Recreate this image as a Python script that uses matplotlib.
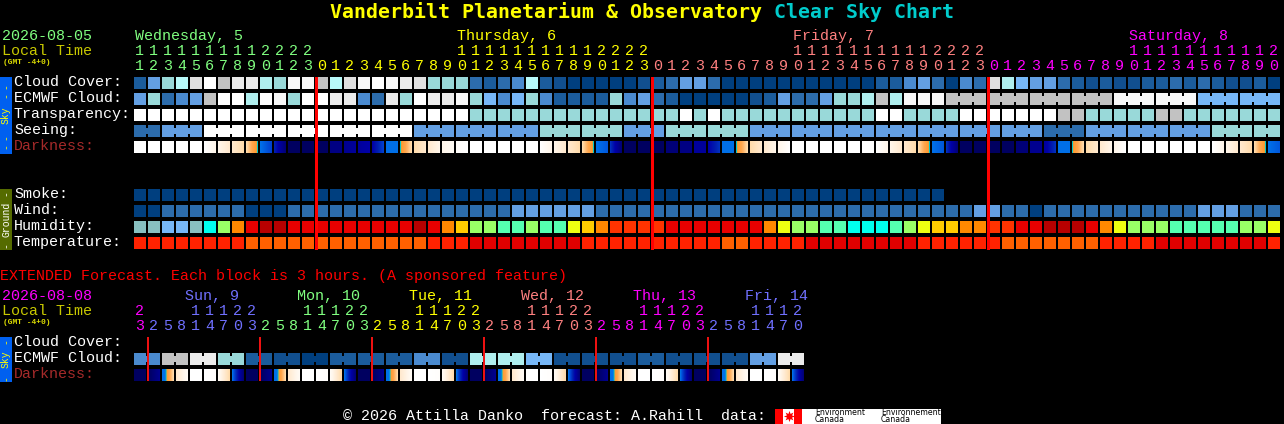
import numpy as np
import matplotlib
matplotlib.use("Agg")
import matplotlib.pyplot as plt
from matplotlib.colors import LinearSegmentedColormap

# ---------- data ----------
hours = [11,12,13,14,15,16,17,18,19,20,21,22,23,
         0,1,2,3,4,5,6,7,8,9,10,11,12,13,14,15,16,17,18,19,20,21,22,23,
         0,1,2,3,4,5,6,7,8,9,10,11,12,13,14,15,16,17,18,19,20,21,22,23,
         0,1,2,3,4,5,6,7,8,9,10,11,12,13,14,15,16,17,18,19,20]
ext_hours = [23,
             2,5,8,11,14,17,20,23, 2,5,8,11,14,17,20,23, 2,5,8,11,14,17,20,23,
             2,5,8,11,14,17,20,23, 2,5,8,11,14,17,20,23, 2,5,8,11,14,17,20]

cloud_cover = [2,5,7,9,11,14,10,12,12,8,
               7,13,13,10,9,11,13,14,13,12,
               11,7,7,7,3,2,3,4,9,2,
               1,0,0,0,0,0,1,2,3,5,
               5,3,0,0,0,0,0,0,0,0,
               0,0,0,2,2,4,5,3,0,4,
               3,11,8,6,5,5,3,2,1,2,
               1,1,2,2,3,2,3,2,1,1,
               2,0]
ecmwf_cloud = [5,7,3,4,5,10,14,14,8,14,
               13,7,14,14,12,12,4,3,12,7,
               14,12,12,13,7,6,4,6,7,4,
               2,2,2,2,7,4,5,3,2,0,
               0,0,0,0,1,2,5,3,3,5,
               7,7,8,10,8,13,13,13,10,10,
               10,10,10,10,10,10,10,10,10,10,
               13,13,13,13,13,13,6,6,6,6,
               6,6]
transparency = [14,14,14,14,14,14,14,14,14,14,
                14,14,14,14,14,14,14,14,14,14,
                14,14,14,14,7,7,7,7,7,7,
                7,7,7,7,7,7,7,7,7,14,
                7,14,7,7,7,7,7,7,7,7,
                7,7,7,14,14,7,7,7,7,14,
                14,14,14,14,14,14,10,10,7,7,
                7,7,7,10,10,7,7,7,7,7,
                7,7]
seeing = [3,3,5,5,5,14,14,14,14,14,
          14,14,14,14,14,14,14,14,14,14,
          5,5,5,5,5,5,5,5,5,7,
          7,7,7,7,7,5,5,5,7,7,
          7,7,7,7,5,5,5,5,5,5,
          5,5,5,5,5,5,5,5,5,5,
          5,5,5,5,5,3,3,3,5,5,
          5,5,5,5,5,5,5,7,7,7,
          7,7]
dark_start = [0,0,0,0,0,0,1,2,3,6,
              8,12,12,12,10.5,10,9.5,9,6,5,
              3,2,1,0.3,0,0,0,0,0,0,
              1,2,3,6,7.5,12,12,12,11,10.5,
              9.5,9,6,5,3,2,1,0,0,0,
              0,0,0,0,1,2,3,6,7.5,12,
              12,12,12,11,10,9.5,6,5,3,2,
              1,0,0,0,0,0,0,0,1,2,
              3,6]
dark_end = [0,0,0,0,0,1,2,3,5,7,
            11,12,12,12,10.5,9.5,9,7,6,3,
            2,1,0.5,0,0,0,0,0,0,1,
            2,3,5,6.5,11,12,12,12,11,10.5,
            9.5,7.5,6,3,2,1,0,0,0,0,
            0,0,0,1,2,3,5,6.5,11,12,
            12,12,12,11,10,7.5,6,3,2,1,
            0,0,0,0,0,0,0,1,2,3,
            5,6.5]
smoke = [0,0,0,0,0,0,0,0,0,0, 0,0,0,0,0,0,0,0,0,0,
         0,0,0,0,0,0,0,0,0,0, 0,0,0,0,0,0,0,0,0,0,
         0,0,0,0,0,0,0,0,0,0, 0,0,0,0,0,0,0,0]
wind = [0,0,3,3,3,3,3,3,0,0,
        0,3,3,3,3,3,3,3,3,3,
        3,3,3,3,3,3,3,5,5,5,
        5,5,5,3,3,3,3,3,3,3,
        3,3,3,3,3,3,3,3,3,3,
        3,3,3,3,3,3,3,3,3,3,
        5,5,3,3,0,3,3,3,3,3,
        3,3,3,3,3,3,5,5,5,3,
        3,3]
humidity = [0,0,1,1,0,2,4,7,9,10,
            10,9,9,9,9,9,9,9,9,9,
            10,9,7,6,4,4,3,3,4,3,
            3,5,6,7,8,8,8,8,9,9,
            9,9,9,9,9,7,5,4,4,3,
            3,2,2,2,3,4,5,6,6,7,
            7,8,8,9,9,10,10,10,9,7,
            5,4,4,4,3,3,3,3,3,4,
            4,5]
temperature = [1,1,1,1,1,1,1,1,2,2,
               2,2,2,2,2,2,2,2,2,2,
               2,1,1,1,0,0,0,0,0,0,
               0,0,1,1,1,1,1,1,1,1,
               1,1,2,2,1,1,1,1,0,0,
               0,0,0,0,0,0,1,1,1,1,
               1,1,2,2,2,2,2,2,2,1,
               1,1,1,0,0,0,0,0,0,0,
               0,1]
ext_ecmwf = [4,4,10,10,12,12,7,7,2,2,1,1,0,0,2,2,2,2,2,2,4,4,1,1,
             8,8,8,8,6,6,1,1,1,1,1,1,2,2,1,1,1,1,1,1,5,5,12,12]
ext_dark_start = [12,12,6,2,0,0,0.5,6, 12,12,6,2,0,0,0.5,6, 12,12,6,2,0,0,0.5,6,
                  12,12,6,2,0,0,0.5,6, 12,12,6,2,0,0,0.5,6, 12,12,6,2,0,0,0.5,6]
ext_dark_end = [12,10,3,0.5,0,0.2,3,11, 12,10,3,0.5,0,0.2,3,11, 12,10,3,0.5,0,0.2,3,11,
                12,10,3,0.5,0,0.2,3,11, 12,10,3,0.5,0,0.2,3,11, 12,10,3,0.5,0,0.2,3,11]

seeing_groups = [2,3,3,3,3,3,3,3,3,3,3,3,3,3,3,3,3,3,3,3,3,3,3,3,3,3,3,2]
ecmwf_groups_from_58 = [3,3,3,3,3,3,3,3]
ext_groups = [2]*24

day_labels = ["Wednesday, 5", "Thursday, 6", "Friday, 7", "Saturday, 8"]
ext_day_labels = ["Sun, 9", "Mon, 10", "Tue, 11", "Wed, 12", "Thu, 13", "Fri, 14"]

# ---------- styles ----------
cloud_pal = ['#003F7F','#114F8F','#1B5C9C','#2C6CAC','#4A8ACF','#639FE3','#77B7F7',
             '#99D9D9','#AFEEEE','#B8FAFA','#C2C2C2','#E0E0E0','#EBEBEB','#F8F8F8','#FFFFFF']
hum_pal = ['#88C0C0','#77B7F7','#00FFEE','#55FFB0','#99FF66','#EEFF11','#FFCC00',
           '#FF8800','#FF3300','#E80000','#B80000']
temp_pal = ['#E00000','#FF2200','#FF6000']
stops = [(0,'#FFFFFF'),(1,'#FFF6EA'),(2,'#FFE9CE'),(3,'#FFDCAC'),(4,'#FFA850'),(4.8,'#FF9A30'),
         (5,'#00C8C8'),(5.3,'#0070E8'),(6,'#0070E8'),(7,'#0040D0'),(8,'#0020B0'),(9,'#0000A8'),
         (10,'#000090'),(11,'#000078'),(12,'#000060')]
dark_cmap = LinearSegmentedColormap.from_list('dark', [(v/12,c) for v,c in stops], N=512)
dark_cmap.set_bad('black')

GREEN, YEL, PINK, MAG, VIO = '#80FF80', '#FFFF00', '#FF8080', '#FF00FF', '#7070FF'
OLIVE = '#C8C800'
X0, STEP, CELL = 134, 14, 12
MONO = 'Liberation Mono'
FS = 10.8

fig = plt.figure(figsize=(12.84, 4.24), dpi=100, facecolor='black')
ax = fig.add_axes([0, 0, 1, 1])
ax.set_facecolor('black')
ax.axis('off')

def txt(x, y, s, color='white', fs=FS, ha='left', **kw):
    ax.text(x, y, s, color=color, fontsize=fs, ha=ha, va='center', family=MONO, **kw)

def row(vals, pal, y, groups=None, group_start=0):
    xs = X0 + STEP*np.arange(len(vals))
    ax.bar(xs, CELL, CELL, bottom=y, align='edge', color=[pal[v] for v in vals],
           linewidth=0, antialiased=False, zorder=2)
    if groups:
        c = group_start
        for g in groups:
            for k in range(g-1):
                ax.bar(X0+STEP*(c+k)+CELL, 6, STEP-CELL, bottom=y+3, align='edge',
                       color=pal[vals[c+k]], linewidth=0, antialiased=False, zorder=2)
            c += g

def dark_row(start, end, y):
    n = len(start)
    img = np.full((1, n*STEP), np.nan)
    for i, (s, e) in enumerate(zip(start, end)):
        img[0, i*STEP:i*STEP+CELL] = np.linspace(s, e, CELL)
    ax.imshow(img, extent=(X0, X0+n*STEP, y+CELL, y), cmap=dark_cmap, vmin=0, vmax=12,
              aspect='auto', interpolation='nearest', zorder=2)

def hour_color(day_idx):
    return [GREEN, YEL, PINK, MAG][day_idx]

# title
title_a = "Vanderbilt Planetarium & Observatory "
title_b = "Clear Sky Chart"
ax.text(330, 12, title_a, color='#FFFF00', fontsize=14.35, weight='bold', family='DejaVu Sans Mono', ha='left', va='center')
ax.text(330+12*len(title_a), 12, title_b, color='#00CCCC', fontsize=14.35, weight='bold', family='DejaVu Sans Mono', ha='left', va='center')

# main header
txt(2, 36, "2026-08-05", GREEN)
txt(2, 51, "Local Time", OLIVE)
txt(3, 62, "(GMT -4+0)", '#DDDD00', fs=5.7, weight='bold')
day = 0
day_cols = []
for i, h in enumerate(hours):
    if h == 0 and i > 0:
        day += 1
    c = hour_color(day)
    cx = X0 + STEP*i + 5.7
    txt(cx, 66, str(h % 10), c, ha='center')
    if h >= 10:
        txt(cx, 51, str(h // 10), c, ha='center')
    if h == 10 or i == 0:
        day_cols.append((i, day))
for (i, d), lab in zip(day_cols, day_labels):
    txt(X0 + STEP*i + 1, 36, lab, hour_color(d))

# main rows
for y, s, c in [(82,"Cloud Cover:",'white'),(98,"ECMWF Cloud:",'white'),(114,"Transparency:",'white'),
                (130,"Seeing:",'white'),(146,"Darkness:",'#A52A2A'),
                (194,"Smoke:",'white'),(210,"Wind:",'white'),(226,"Humidity:",'white'),(242,"Temperature:",'white')]:
    txt(14, y, s, c)
row(cloud_cover, cloud_pal, 77)
row(ecmwf_cloud, cloud_pal, 93, ecmwf_groups_from_58, 58)
row(transparency, cloud_pal, 109)
row(seeing, cloud_pal, 125, seeing_groups)
dark_row(dark_start, dark_end, 141)
row(smoke, cloud_pal, 189)
row(wind, cloud_pal, 205)
row(humidity, hum_pal, 221)
row(temperature, temp_pal, 237)

for i, h in enumerate(hours):
    if h == 0:
        ax.bar(X0+STEP*i-1, 173, 3, bottom=77, align='edge', color='#FF0000',
               linewidth=0, antialiased=False, zorder=3)

# side bars
ax.bar(0, 77, 12, bottom=77, align='edge', color='#0060F0', linewidth=0, antialiased=False)
ax.bar(0, 61, 12, bottom=189, align='edge', color='#556B00', linewidth=0, antialiased=False)
ax.bar(0, 45, 12, bottom=337, align='edge', color='#0060F0', linewidth=0, antialiased=False)
SIDE = dict(fs=7, ha='center', rotation=90, rotation_mode='anchor')
txt(6, 115, "Sky", '#FFFF00', **SIDE)
for yd in (86, 95, 137, 146):
    txt(6, yd, "-", '#FFFF00', **SIDE)
txt(6, 219, "Ground", 'white', **SIDE)
for yd in (193, 245):
    txt(6, yd, "-", 'white', **SIDE)
txt(6, 359, "Sky", '#FFFF00', **SIDE)
for yd in (341, 378):
    txt(6, yd, "-", '#FFFF00', **SIDE)

# extended
txt(0, 276, "EXTENDED Forecast. Each block is 3 hours. (A sponsored feature)", '#FF0000')
txt(2, 296, "2026-08-08", MAG)
txt(2, 311, "Local Time", OLIVE)
txt(3, 322, "(GMT -4+0)", '#DDDD00', fs=5.7, weight='bold')
ext_colors = [VIO, GREEN, YEL, PINK, MAG, VIO]
d = -1
for i, h in enumerate(ext_hours):
    if h == 2:
        d += 1
    c = MAG if d < 0 else ext_colors[d]
    cx = X0 + STEP*i + 5.7
    txt(cx, 326, str(h % 10), c, ha='center')
    if h >= 10:
        txt(cx, 311, str(h // 10), c, ha='center')
    if h == 11:
        txt(cx-11, 296, ext_day_labels[d], c)
    if h == 2:
        ax.bar(X0+STEP*i-1, 44, 2, bottom=337, align='edge', color='#EE1111',
               linewidth=0, antialiased=False, zorder=3)
for y, s, c in [(342,"Cloud Cover:",'white'),(358,"ECMWF Cloud:",'white'),(374,"Darkness:",'#A52A2A')]:
    txt(14, y, s, c)
row(ext_ecmwf, cloud_pal, 353, ext_groups)
dark_row(ext_dark_start, ext_dark_end, 369)

# footer
txt(343, 416, "\u00a9 2026 Attilla Danko  forecast: A.Rahill  data:")
ax.bar(775, 15, 166, bottom=409, align='edge', color='white', linewidth=0, antialiased=False)
ax.bar([775, 794], 15, 8, bottom=409, align='edge', color='#FF0000', linewidth=0, antialiased=False)
ax.plot([788.5], [416], marker=(8, 1, 0), ms=8, color='#FF0000', mew=0, zorder=3)
for xt, w in [(815, "Environment"), (881, "Environnement")]:
    ax.text(xt, 412.5, w, fontsize=5.6, color='black', family='DejaVu Sans', va='center', zorder=3)
    ax.text(xt, 420, "Canada", fontsize=5.6, color='black', family='DejaVu Sans', va='center', zorder=3)

ax.set_xlim(0, 1284)
ax.set_ylim(424, 0)
fig.savefig('out.png', dpi=100, facecolor='black')
